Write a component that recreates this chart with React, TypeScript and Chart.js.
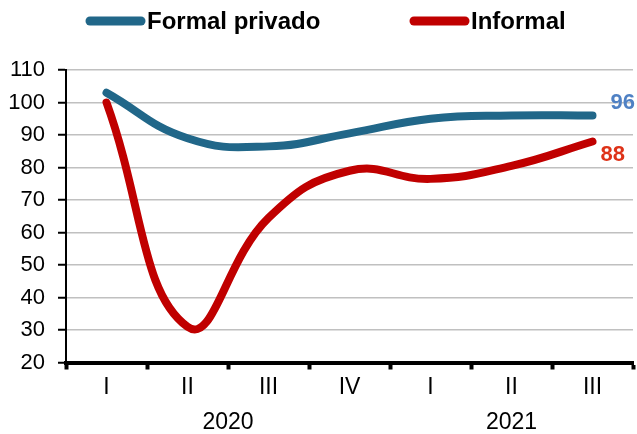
import React, { useEffect, useRef } from "react";
import { Chart, registerables } from "chart.js";

Chart.register(...registerables);

const categories = ["I", "II", "III", "IV", "I", "II", "III"];
const years = ["2020", "2021"];
const yearFirstIndex = [0, 4];
const yearLastIndex = [3, 6];
const seriesNames = ["Formal privado", "Informal"];
const formalPrivado = [103, 89, 86.5, 90.5, 95, 96, 96];
const informal = [100, 31, 64.5, 79, 76.5, 80.5, 88];
const endLabels = ["96", "88"];
const yMin = 20;
const yMax = 110;
const yStep = 10;

const FONT = 'Arial, "Liberation Sans", sans-serif';
const BLUE = "#216789";
const RED = "#C00000";
const LABEL_COLORS = ["#4F81C4", "#DE3218"];

const overlayPlugin = {
  id: "overlay",
  afterDraw(chart: any) {
    const ctx = chart.ctx;
    const xScale = chart.scales.x;
    ctx.save();
    // year labels
    ctx.font = `23px ${FONT}`;
    ctx.fillStyle = "#000";
    ctx.textAlign = "center";
    ctx.textBaseline = "middle";
    years.forEach((y, i) => {
      const x0 = xScale.getPixelForValue(yearFirstIndex[i]);
      const x1 = xScale.getPixelForValue(yearLastIndex[i]);
      ctx.fillText(y, (x0 + x1) / 2, 423);
    });
    // end labels
    ctx.font = `bold 22px ${FONT}`;
    ctx.textAlign = "left";
    const offsets = [
      [18, -13],
      [8, 13],
    ];
    chart.data.datasets.forEach((ds: any, i: number) => {
      const meta = chart.getDatasetMeta(i);
      const pt = meta.data[meta.data.length - 1];
      ctx.fillStyle = LABEL_COLORS[i];
      ctx.fillText(endLabels[i], pt.x + offsets[i][0], pt.y + offsets[i][1]);
    });
    // legend
    const legendX = [90, 414];
    const legendY = 21;
    ctx.font = `bold 24px ${FONT}`;
    ctx.textBaseline = "middle";
    chart.data.datasets.forEach((ds: any, i: number) => {
      ctx.strokeStyle = ds.borderColor;
      ctx.lineWidth = 9;
      ctx.lineCap = "round";
      ctx.beginPath();
      ctx.moveTo(legendX[i], legendY);
      ctx.lineTo(legendX[i] + 51, legendY);
      ctx.stroke();
      ctx.fillStyle = "#000";
      ctx.fillText(ds.label, legendX[i] + 57, legendY + 1);
    });
    ctx.restore();
  },
};

export default function App() {
  const canvasRef = useRef<HTMLCanvasElement | null>(null);

  useEffect(() => {
    const canvas = canvasRef.current;
    if (!canvas) return;
    const chart = new Chart(canvas, {
      type: "line",
      data: {
        labels: categories,
        datasets: [
          {
            label: seriesNames[0],
            data: formalPrivado,
            borderColor: BLUE,
            backgroundColor: BLUE,
            borderWidth: 8,
            borderCapStyle: "round",
            borderJoinStyle: "round",
            pointRadius: 0,
            tension: 0.45,
            fill: false,
          },
          {
            label: seriesNames[1],
            data: informal,
            borderColor: RED,
            backgroundColor: RED,
            borderWidth: 8,
            borderCapStyle: "round",
            borderJoinStyle: "round",
            pointRadius: 0,
            tension: 0.45,
            fill: false,
          },
        ],
      },
      options: {
        responsive: false,
        animation: false,
        devicePixelRatio: 1,
        layout: { padding: { top: 70, right: 4, left: 0, bottom: 0 } },
        plugins: {
          legend: { display: false },
          tooltip: { enabled: false },
        },
        scales: {
          x: {
            type: "category",
            offset: true,
            grid: {
              offset: true,
              drawOnChartArea: false,
              drawTicks: true,
              tickLength: 7,
              tickWidth: 4,
              tickColor: "#000",
            },
            border: { display: true, color: "#000", width: 4 },
            ticks: {
              color: "#000",
              font: { family: FONT, size: 23 },
              padding: 4,
              maxRotation: 0,
              autoSkip: false,
            },
            afterFit(scale: any) {
              scale.height = 71.5;
            },
          },
          y: {
            min: yMin,
            max: yMax,
            grid: {
              color: "#C0C0C0",
              lineWidth: 1.5,
              drawTicks: true,
              tickLength: 8,
              tickColor: "#000",
              tickWidth: 2,
            },
            border: { display: true, color: "#000", width: 2 },
            ticks: {
              stepSize: yStep,
              color: "#000",
              font: { family: FONT, size: 22 },
              padding: 13,
            },
            afterFit(scale: any) {
              scale.width = 66;
            },
          },
        },
      },
      plugins: [overlayPlugin],
    });
    return () => chart.destroy();
  }, []);

  return (
    <div style={{ position: "fixed", left: 0, top: 0, width: 637, height: 434, background: "#fff" }}>
      <canvas ref={canvasRef} width={637} height={434} style={{ display: "block" }} />
    </div>
  );
}
